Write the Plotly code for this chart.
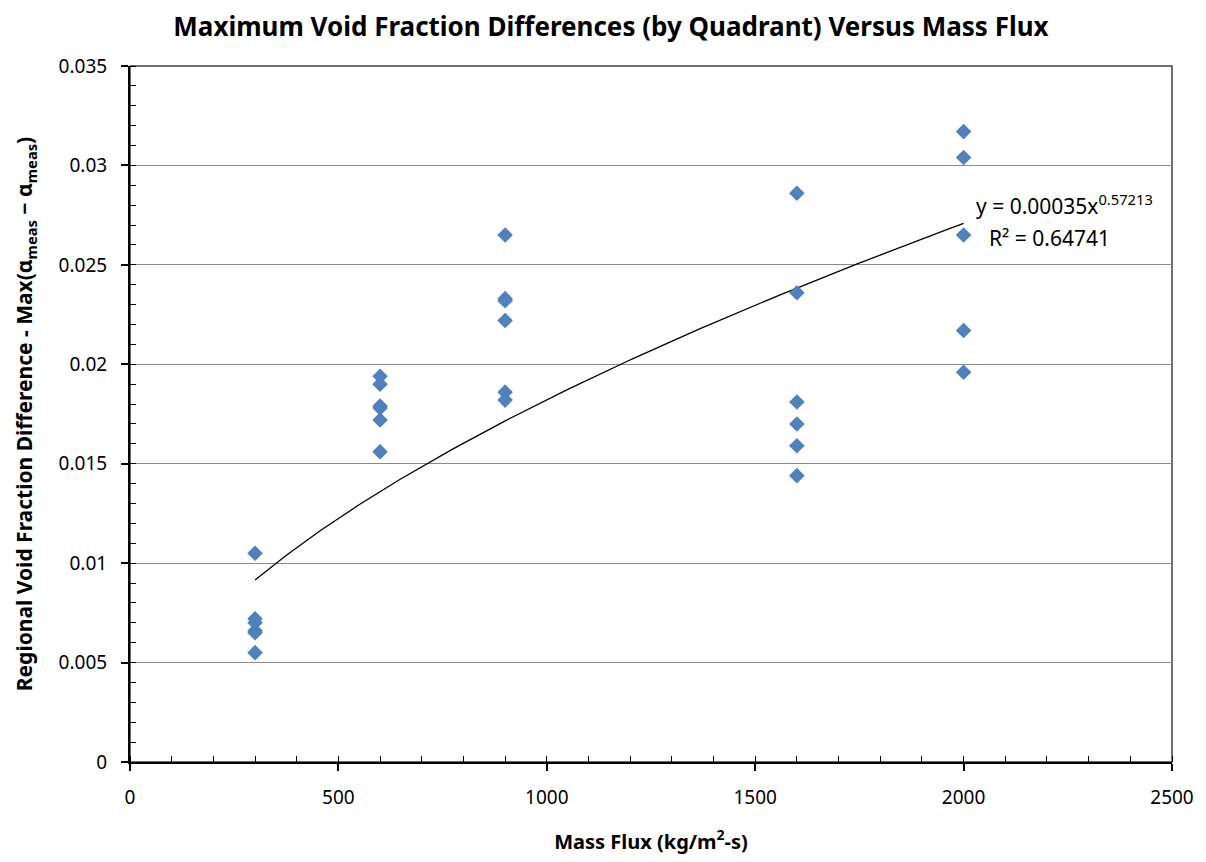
import numpy as np
import plotly.graph_objects as go

# ---- data ----
mass_flux = [300, 300, 300, 300, 300, 300,
             600, 600, 600, 600, 600, 600,
             900, 900, 900, 900, 900, 900,
             1600, 1600, 1600, 1600, 1600, 1600,
             2000, 2000, 2000, 2000, 2000]
void_diff = [0.0105, 0.0072, 0.0070, 0.0066, 0.0065, 0.0055,
             0.0194, 0.0190, 0.0179, 0.0178, 0.0172, 0.0156,
             0.0265, 0.0233, 0.0232, 0.0222, 0.0186, 0.0182,
             0.0286, 0.0236, 0.0181, 0.0170, 0.0159, 0.0144,
             0.0317, 0.0304, 0.0265, 0.0217, 0.0196]

# power-law trendline as reported on the chart
trend_a = 0.00035
trend_b = 0.57213
trend_r2 = 0.64741

x_ticks = [0, 500, 1000, 1500, 2000, 2500]
y_ticks = [0, 0.005, 0.01, 0.015, 0.02, 0.025, 0.03, 0.035]
y_tick_text = ["0", "0.005", "0.01", "0.015", "0.02", "0.025", "0.03", "0.035"]

FONT = "Noto Sans"

tx = np.linspace(min(mass_flux), max(mass_flux), 200)
ty = trend_a * tx ** trend_b

fig = go.Figure()
fig.add_trace(go.Scatter(x=tx, y=ty, mode="lines",
                         line=dict(color="black", width=1.3),
                         hoverinfo="skip", showlegend=False))
fig.add_trace(go.Scatter(x=mass_flux, y=void_diff, mode="markers",
                         marker=dict(symbol="diamond", size=12, color="#4F81BD",
                                     line=dict(width=0)),
                         showlegend=False))

fig.add_annotation(x=2242, y=0.02802, xref="x", yref="y", showarrow=False,
                   text=f"y = {trend_a:.5f}x<sup>{trend_b}</sup>",
                   font=dict(family=FONT, size=21, color="black"))
fig.add_annotation(x=2207, y=0.02636, xref="x", yref="y", showarrow=False,
                   text=f"R² = {trend_r2}",
                   font=dict(family=FONT, size=21, color="black"))

fig.add_shape(type="rect", xref="paper", yref="paper", x0=0, x1=1, y0=0, y1=1,
              line=dict(color="#404040", width=1.5), layer="below")

fig.update_layout(
    width=1206, height=862,
    margin=dict(l=122, r=42, t=58, b=108),
    paper_bgcolor="white", plot_bgcolor="white",
    font=dict(family=FONT, color="black"),
    title=dict(text="<b>Maximum Void Fraction Differences (by Quadrant) Versus Mass Flux</b>",
               x=0.5, xanchor="center", y=0.978, yanchor="middle",
               font=dict(family=FONT, size=26, color="black")),
)
fig.update_xaxes(
    range=[0, 2500], tickvals=x_ticks, showgrid=False, zeroline=False,
    showline=True, linecolor="black", linewidth=2,
    ticks="outside", ticklen=7, tickwidth=1.5, tickcolor="black",
    ticklabelstandoff=10,
    tickfont=dict(family=FONT, size=19, color="black"),
    minor=dict(dtick=100, ticks="inside", ticklen=6, tickwidth=1.2, tickcolor="black", showgrid=False),
    title=dict(text="<b>Mass Flux (kg/m<sup>2</sup>-s)</b>", standoff=26,
               font=dict(family=FONT, size=20, color="black")),
)
fig.update_yaxes(
    range=[0, 0.035], tickvals=y_ticks, ticktext=y_tick_text,
    showgrid=True, gridcolor="#8c8c8c", gridwidth=1, zeroline=False,
    showline=True, linecolor="black", linewidth=2,
    ticks="outside", ticklen=7, tickwidth=1.5, tickcolor="black",
    ticklabelstandoff=10,
    tickfont=dict(family=FONT, size=19, color="black"),
    minor=dict(dtick=0.001, ticks="inside", ticklen=6, tickwidth=1.2, tickcolor="black", showgrid=False),
    title=dict(text="<b>Regional Void Fraction Difference - Max(α<sub>meas</sub> − α<sub>meas</sub>)</b>",
               standoff=20, font=dict(family=FONT, size=21, color="black")),
)

fig.write_html("out.html")
